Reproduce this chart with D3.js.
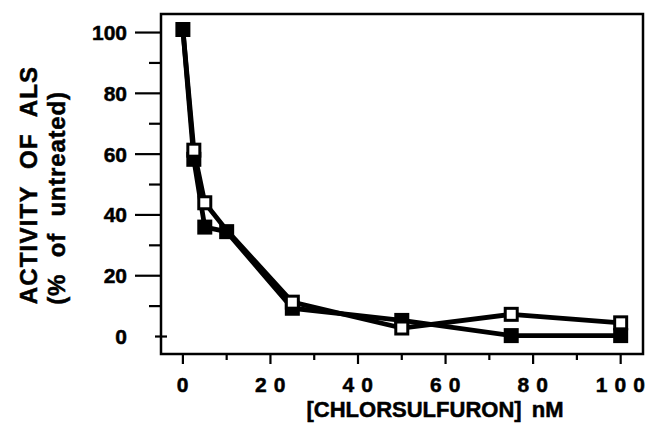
<!DOCTYPE html>
<html>
<head>
<meta charset="utf-8">
<script src="https://cdn.jsdelivr.net/npm/d3@7"></script>
<style>
  body { margin: 0; background: #fff; }
  text { font-family: "Liberation Sans", Arial, sans-serif; font-weight: bold; fill: #000; stroke: #000; stroke-width: 0.5px; }
</style>
</head>
<body>
<script>
// concentrations (nM)
const conc = [0, 2.5, 5, 10, 25, 50, 75, 100]
// activity, % of untreated
const filledVals = [101, 58.3, 36, 34.5, 9.3, 5.3, 0.3, 0.3]
const openVals = [101, 61.3, 44, 35, 11.3, 2.8, 7.3, 4.5]
const xTicks = [0, 20, 40, 60, 80, 100]
const xMinor = [10, 30, 50, 70, 90]
const yTicks = [0, 20, 40, 60, 80, 100]
const yMinor = [10, 30, 50, 70, 90]

const W = 647, H = 425
const frame = { left: 161, top: 14, right: 643, bottom: 354 }

const svg = d3.select("body").append("svg")
    .attr("width", W)
    .attr("height", H)

const x = d3.scaleLinear().domain([-5.0, 105.1]).range([frame.left, frame.right])
const y = d3.scaleLinear().domain([-5.75, 106.1]).range([frame.bottom, frame.top])

// frame
svg.append("rect")
    .attr("x", frame.left).attr("y", frame.top)
    .attr("width", frame.right - frame.left)
    .attr("height", frame.bottom - frame.top)
    .attr("fill", "none")
    .attr("stroke", "#000")
    .attr("stroke-width", 2.5)

// y ticks
svg.selectAll(".ymaj").data(yTicks).enter().append("line")
    .attr("x1", d => d === 0 ? frame.left - 6 : frame.left - 26)
    .attr("x2", d => d === 0 ? frame.left + 6 : frame.left)
    .attr("y1", d => y(d)).attr("y2", d => y(d))
    .attr("stroke", "#000").attr("stroke-width", 2.2)

svg.selectAll(".ymin").data(yMinor).enter().append("line")
    .attr("x1", frame.left - 12).attr("x2", frame.left)
    .attr("y1", d => y(d)).attr("y2", d => y(d))
    .attr("stroke", "#000").attr("stroke-width", 2.2)

svg.selectAll(".ylab").data(yTicks).enter().append("text")
    .attr("x", 127)
    .attr("y", d => y(d) + 7.5)
    .attr("text-anchor", "end")
    .style("font-size", "21px")
    .text(d => d)

// x ticks
svg.selectAll(".xmaj").data(xTicks).enter().append("line")
    .attr("x1", d => x(d)).attr("x2", d => x(d))
    .attr("y1", frame.bottom).attr("y2", frame.bottom + 10)
    .attr("stroke", "#000").attr("stroke-width", 2.2)

svg.selectAll(".xmin").data(xMinor).enter().append("line")
    .attr("x1", d => x(d)).attr("x2", d => x(d))
    .attr("y1", frame.bottom).attr("y2", frame.bottom + 6)
    .attr("stroke", "#000").attr("stroke-width", 2.2)

// spaced-out digits like the original typesetting
svg.selectAll(".xlab").data(xTicks).enter().append("text")
    .attr("x", d => x(d))
    .attr("y", 392)
    .attr("text-anchor", "middle")
    .style("font-size", "21px")
    .style("letter-spacing", "0.6px")
    .text(d => String(d).split("").join(" "))

// axis titles
svg.append("text")
    .attr("x", 435).attr("y", 417)
    .attr("text-anchor", "middle")
    .style("font-size", "22px")
    .style("word-spacing", "4px")
    .text("[CHLORSULFURON] nM")

svg.append("text")
    .attr("transform", "translate(37,185) rotate(-90)")
    .attr("text-anchor", "middle")
    .style("font-size", "24px")
    .style("letter-spacing", "1.2px")
    .style("word-spacing", "9px")
    .text("ACTIVITY OF ALS")

svg.append("text")
    .attr("transform", "translate(65,198) rotate(-90)")
    .attr("text-anchor", "middle")
    .style("font-size", "24px")
    .style("letter-spacing", "0.8px")
    .style("word-spacing", "9px")
    .text("(% of untreated)")

// series
const line = d3.line()
    .x(d => x(d[0]))
    .y(d => y(d[1]))

const filled = conc.map((c, i) => [c, filledVals[i]])
const open = conc.map((c, i) => [c, openVals[i]])

svg.append("path").datum(filled)
    .attr("d", line)
    .attr("fill", "none").attr("stroke", "#000").attr("stroke-width", 4.8)
    .attr("stroke-linejoin", "round")

svg.append("path").datum(open)
    .attr("d", line)
    .attr("fill", "none").attr("stroke", "#000").attr("stroke-width", 4.8)
    .attr("stroke-linejoin", "round")

const sq = 15

svg.selectAll(".fsq").data(filled).enter().append("rect")
    .attr("x", d => x(d[0]) - sq / 2)
    .attr("y", d => y(d[1]) - sq / 2)
    .attr("width", sq).attr("height", sq)
    .attr("fill", "#000")

// open markers at 0 and 10 nM sit under the filled ones
svg.selectAll(".osq").data(open.filter(d => d[0] !== 0 && d[0] !== 10)).enter().append("rect")
    .attr("x", d => x(d[0]) - sq / 2 + 1.5)
    .attr("y", d => y(d[1]) - sq / 2 + 1.5)
    .attr("width", sq - 3).attr("height", sq - 3)
    .attr("fill", "#fff")
    .attr("stroke", "#000")
    .attr("stroke-width", 3)
</script>
</body>
</html>
